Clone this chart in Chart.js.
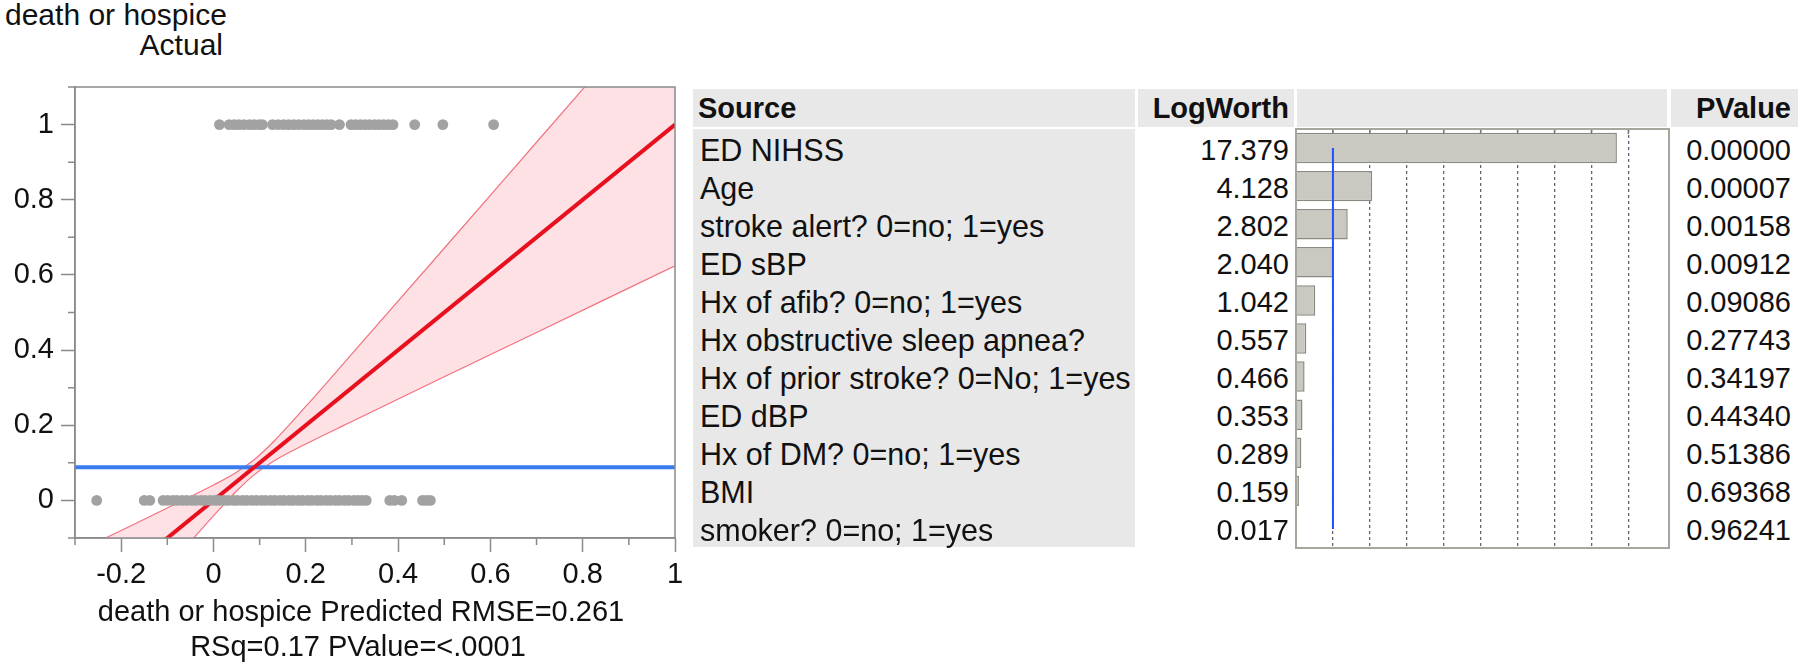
<!DOCTYPE html>
<html>
<head>
<meta charset="utf-8">
<title>death or hospice - actual by predicted, effect summary</title>
<script src="https://cdn.jsdelivr.net/npm/chart.js@4.4.0/dist/chart.umd.min.js"></script>
<style>
  body {
    margin: 0;
    width: 1801px;
    height: 667px;
    position: relative;
    overflow: hidden;
    background: #fff;
    color: #111;
    font-family: "Liberation Sans", Arial, Helvetica, sans-serif;
  }
  .abs { position: absolute; white-space: nowrap; }
  .ttl { font-size: 30px; line-height: 30px; }
  .xttl { font-size: 29px; line-height: 35px; text-align: center; }
  .hdr {
    position: absolute;
    top: 89px;
    height: 38px;
    line-height: 38px;
    background: #e8e8e8;
    font-size: 29px;
    font-weight: bold;
    white-space: nowrap;
    box-sizing: border-box;
  }
  .cell { position: absolute; font-size: 29px; white-space: nowrap; }
  .cell.src { font-size: 30.5px; }
</style>
</head>
<body>

<div class="abs ttl" style="left:5px; top:0px;">death or hospice</div>
<div class="abs ttl" style="left:5px; top:30px; width:218px; text-align:right;">Actual</div>
<div class="abs" style="left:0px; top:60px; width:720px; height:607px;">
  <canvas id="fitChart"></canvas>
</div>
<div class="abs xttl" style="left:0px; top:594px; width:722px;">death or hospice Predicted RMSE=0.261</div>
<div class="abs xttl" style="left:0px; top:629px; width:716px;">RSq=0.17 PValue=&lt;.0001</div>

<div class="hdr" style="left:693px; width:442px; padding-left:5px;">Source</div>
<div class="hdr" style="left:1138px; width:156px; padding-right:5px; text-align:right;">LogWorth</div>
<div class="hdr" style="left:1297px; width:370px;"></div>
<div class="hdr" style="left:1671px; width:127px; padding-right:7px; text-align:right;">PValue</div>
<div class="abs" style="left:693px; top:129px; width:442px; height:418px; background:#e8e8e8;"></div>
<div id="rows"></div>
<div class="abs" style="left:1294px; top:127px; width:377px; height:423px;">
  <canvas id="lwChart"></canvas>
</div>

<script>
// ---- actual by predicted plot ----
const xTicks = [-0.2, 0, 0.2, 0.4, 0.6, 0.8, 1];
const xMinor = [-0.3, -0.1, 0.1, 0.3, 0.5, 0.7, 0.9];
const yTicks = [0, 0.2, 0.4, 0.6, 0.8, 1];
const yMinor = [-0.1, 0.1, 0.3, 0.5, 0.7, 0.9, 1.1];

// predicted value of each patient, split by actual outcome
const died = [0.013, 0.034, 0.045, 0.055, 0.066, 0.078, 0.088, 0.099, 0.106,
  0.128, 0.140, 0.152, 0.163, 0.174, 0.185, 0.196, 0.206, 0.216, 0.226, 0.236,
  0.246, 0.255, 0.273, 0.298, 0.308, 0.318, 0.328, 0.338, 0.349, 0.359, 0.369,
  0.379, 0.389, 0.436, 0.497, 0.607];
const survived = [-0.253, -0.150, -0.138, -0.109, -0.099, -0.088, -0.079, -0.068,
  -0.058, -0.047, -0.038, -0.027, -0.018, -0.007, 0.003, 0.012, 0.023, 0.032,
  0.043, 0.052, 0.063, 0.072, 0.083, 0.093, 0.104, 0.113, 0.124, 0.133, 0.144,
  0.153, 0.164, 0.173, 0.184, 0.193, 0.204, 0.213, 0.224, 0.233, 0.244, 0.253,
  0.264, 0.273, 0.284, 0.293, 0.304, 0.313, 0.322, 0.331, 0.382, 0.392, 0.408,
  0.453, 0.462, 0.470];

// fit line, mean line and confidence band
const fitX = [-0.3, 1];
const fitY = [-0.3, 1];
const meanX = [-0.3, 1];
const meanY = 0.088;
const bandX = [-0.3, -0.2, -0.1, 0, 0.05, 0.088, 0.13, 0.2, 0.3, 0.5, 0.7, 1];
const bandUpper = [-0.139, -0.080, -0.020, 0.041, 0.075, 0.108, 0.156, 0.250, 0.390, 0.671, 0.953, 1.376];
const bandLower = [-0.461, -0.320, -0.180, -0.041, 0.025, 0.068, 0.104, 0.150, 0.210, 0.329, 0.447, 0.624];

// ---- effect summary ----
const sources = ["ED NIHSS", "Age", "stroke alert? 0=no; 1=yes", "ED sBP",
  "Hx of afib? 0=no; 1=yes", "Hx obstructive sleep apnea?",
  "Hx of prior stroke? 0=No; 1=yes", "ED dBP", "Hx of DM? 0=no; 1=yes",
  "BMI", "smoker? 0=no; 1=yes"];
const logWorth = [17.379, 4.128, 2.802, 2.040, 1.042, 0.557, 0.466, 0.353, 0.289, 0.159, 0.017];
const pValues = [0.00000, 0.00007, 0.00158, 0.00912, 0.09086, 0.27743, 0.34197, 0.44340, 0.51386, 0.69368, 0.96241];
const lwTicks = [2, 4, 6, 8, 10, 12, 14, 16, 18];
const lwThreshold = 2; // logworth 2 = p 0.01

Chart.defaults.font.family = '"Liberation Sans", Arial, Helvetica, sans-serif';
Chart.defaults.color = "#111";

const axisGray = "#8a8a8a";
const pt = (xs, ys) => xs.map((x, i) => ({ x: x, y: ys[i] }));

// frame round the plot and the short minor ticks
const frameAndMinorTicks = {
  id: "frameAndMinorTicks",
  afterDraw(chart) {
    const { ctx, chartArea: a, scales } = chart;
    ctx.save();
    ctx.strokeStyle = axisGray;
    ctx.lineWidth = 1.5;
    ctx.strokeRect(a.left, a.top, a.right - a.left, a.bottom - a.top);
    ctx.beginPath();
    xMinor.forEach((v) => {
      const px = scales.x.getPixelForValue(v);
      ctx.moveTo(px, a.bottom);
      ctx.lineTo(px, a.bottom + 7);
    });
    yMinor.forEach((v) => {
      const py = scales.y.getPixelForValue(v);
      ctx.moveTo(a.left, py);
      ctx.lineTo(a.left - 7, py);
    });
    ctx.stroke();
    ctx.restore();
  },
};

new Chart(document.getElementById("fitChart"), {
  type: "scatter",
  data: {
    datasets: [
      {
        label: "died",
        data: died.map((x) => ({ x: x, y: 1 })),
        pointRadius: 5.4,
        backgroundColor: "#a2a2a2",
        borderWidth: 0,
        order: 0,
      },
      {
        label: "survived",
        data: survived.map((x) => ({ x: x, y: 0 })),
        pointRadius: 5.4,
        backgroundColor: "#a2a2a2",
        borderWidth: 0,
        order: 0,
      },
      {
        type: "line",
        label: "fit",
        data: pt(fitX, fitY),
        borderColor: "#e8101e",
        borderWidth: 4,
        pointRadius: 0,
        clip: 0,
        order: 1,
      },
      {
        type: "line",
        label: "mean",
        data: meanX.map((x) => ({ x: x, y: meanY })),
        borderColor: "#3b7bf0",
        borderWidth: 4,
        pointRadius: 0,
        clip: 0,
        order: 2,
      },
      {
        type: "line",
        label: "upper",
        data: pt(bandX, bandUpper),
        borderColor: "#f2737f",
        borderWidth: 1.2,
        pointRadius: 0,
        cubicInterpolationMode: "monotone",
        fill: false,
        clip: 0,
        order: 3,
      },
      {
        type: "line",
        label: "lower",
        data: pt(bandX, bandLower),
        borderColor: "#f2737f",
        borderWidth: 1.2,
        pointRadius: 0,
        cubicInterpolationMode: "monotone",
        fill: "-1",
        backgroundColor: "#fde1e5",
        clip: 0,
        order: 3,
      },
    ],
  },
  options: {
    responsive: true,
    maintainAspectRatio: false,
    animation: false,
    layout: { padding: { left: 0, top: 27, right: 45, bottom: 0 } },
    plugins: { legend: { display: false }, tooltip: { enabled: false } },
    scales: {
      x: {
        type: "linear",
        min: -0.3,
        max: 1,
        afterBuildTicks: (s) => { s.ticks = xTicks.map((v) => ({ value: v })); },
        afterFit: (s) => { s.height = 129; },
        ticks: {
          font: { size: 29 },
          padding: 6,
          autoSkip: false,
          maxRotation: 0,
          callback: (v) => String(+v.toFixed(1)),
        },
        grid: { drawOnChartArea: false, color: axisGray, tickLength: 14, tickWidth: 1.5 },
        border: { color: axisGray, width: 1.5 },
      },
      y: {
        type: "linear",
        min: -0.1,
        max: 1.1,
        afterBuildTicks: (s) => { s.ticks = yTicks.map((v) => ({ value: v })); },
        afterFit: (s) => { s.width = 75; },
        ticks: {
          font: { size: 29 },
          padding: 7,
          autoSkip: false,
          callback: (v) => String(+v.toFixed(1)),
        },
        grid: { drawOnChartArea: false, color: axisGray, tickLength: 14, tickWidth: 1.5 },
        border: { color: axisGray, width: 1.5 },
      },
    },
  },
  plugins: [frameAndMinorTicks],
});

// ---- table text ----
const rowsDiv = document.getElementById("rows");
const rowTop = 129;
const rowH = 419 / sources.length;

function addCell(text, top, side, pos, cls) {
  const d = document.createElement("div");
  d.className = "cell" + (cls ? " " + cls : "");
  d.textContent = text;
  d.style.top = top + "px";
  d.style.height = rowH + "px";
  d.style.lineHeight = rowH + "px";
  d.style[side] = pos + "px";
  rowsDiv.appendChild(d);
}

sources.forEach((s, i) => {
  const top = rowTop + i * rowH + 1.5;
  addCell(s, top, "left", 700, "src");
  addCell(logWorth[i].toFixed(3), top, "right", 1801 - 1289);
  addCell(pValues[i].toFixed(5), top, "right", 1801 - 1791);
});

// ---- logworth bars ----
const panelFrame = {
  id: "panelFrame",
  afterDraw(chart) {
    const { ctx, chartArea: a, scales } = chart;
    ctx.save();
    ctx.strokeStyle = "#777";
    ctx.lineWidth = 1.5;
    ctx.beginPath();
    lwTicks.forEach((v) => {
      const px = scales.x.getPixelForValue(v);
      ctx.moveTo(px, a.top);
      ctx.lineTo(px, a.top + 5);
    });
    ctx.stroke();
    ctx.strokeStyle = "#a6a69e";
    ctx.lineWidth = 2;
    ctx.strokeRect(a.left, a.top, a.right - a.left, a.bottom - a.top);
    ctx.restore();
  },
};

new Chart(document.getElementById("lwChart"), {
  type: "bar",
  data: {
    labels: sources,
    datasets: [
      {
        type: "line",
        indexAxis: "y",
        data: sources.map(() => lwThreshold),
        borderColor: "#2050ff",
        borderWidth: 2,
        pointRadius: 0,
        order: 0,
      },
      {
        data: logWorth,
        backgroundColor: "#c9c8c1",
        borderColor: "#8a8a82",
        borderWidth: 1.5,
        barPercentage: 0.8,
        categoryPercentage: 1,
        order: 1,
      },
    ],
  },
  options: {
    indexAxis: "y",
    responsive: true,
    maintainAspectRatio: false,
    animation: false,
    layout: { padding: 2 },
    plugins: { legend: { display: false }, tooltip: { enabled: false } },
    scales: {
      x: {
        min: 0,
        max: 20.2,
        afterBuildTicks: (s) => { s.ticks = lwTicks.map((v) => ({ value: v })); },
        afterFit: (s) => { s.height = 0; },
        ticks: { display: false },
        grid: { color: "#666", lineWidth: 1.3, drawTicks: false },
        border: { display: false, dash: [3, 3] },
      },
      y: { display: false },
    },
  },
  plugins: [panelFrame],
});
</script>
</body>
</html>
